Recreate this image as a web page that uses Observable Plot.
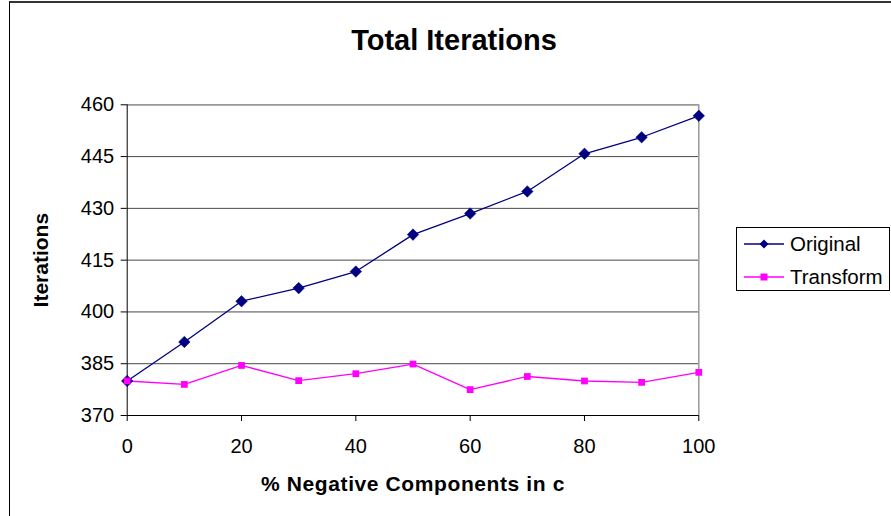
<!DOCTYPE html>
<html>
<head>
<meta charset="utf-8">
<script src="https://cdn.jsdelivr.net/npm/d3@7"></script>
<script src="https://cdn.jsdelivr.net/npm/@observablehq/plot@0.6"></script>
<style>
  html, body { margin: 0; padding: 0; background: #fff; }
  #chart { position: relative; width: 891px; height: 516px; overflow: hidden;
           font-family: "Liberation Sans", Arial, sans-serif; }
  #chart > svg { position: absolute; left: 0; top: 0; }
  .edge { position: absolute; left: 9px; top: 1px; width: 900px; height: 600px;
          border-left: 1.5px solid #000; border-top: 2.5px solid #333; }
  #title { position: absolute; left: 0; width: 908px; top: 24px; text-align: center;
           font-weight: bold; font-size: 29px; color: #000; }
  #legend { position: absolute; left: 736px; top: 227px; width: 154px; height: 64px;
            border: 1px solid #000; box-sizing: border-box; font-size: 20.5px; }
  #legend .row { position: absolute; left: 7px; height: 24px; display: flex; align-items: center; }
  #legend .row svg { display: block; }
  #legend .row span { margin-left: 6px; }
</style>
</head>
<body>
<div id="chart">
  <div class="edge"></div>
</div>
<script>
// Percentage of negative components in c
const pctNegative = [0, 10, 20, 30, 40, 50, 60, 70, 80, 90, 100];
// Total iterations, original formulation
const original = [380, 391.3, 403.1, 406.9, 411.7, 422.4, 428.5, 434.9, 445.8, 450.6, 456.8];
// Total iterations, transformed formulation
const transform = [380.0, 379.0, 384.5, 380.1, 382.1, 384.9, 377.5, 381.3, 380.0, 379.6, 382.5];
const yTicks = [370, 385, 400, 415, 430, 445, 460];
const xTicks = [0, 20, 40, 60, 80, 100];
const seriesNames = ["Original", "Transform"];
const seriesColors = ["#000080", "#FF00FF"];

const rows = [
  ...pctNegative.map((p, i) => ({pct: p, value: original[i], series: seriesNames[0]})),
  ...pctNegative.map((p, i) => ({pct: p, value: transform[i], series: seriesNames[1]}))
];

const font = "Liberation Sans, Arial, sans-serif";

const plot = Plot.plot({
  width: 891,
  height: 516,
  marginLeft: 126.7,
  marginRight: 192.7,
  marginTop: 104.3,
  marginBottom: 101,
  style: {fontFamily: font, color: "#000", background: "transparent", overflow: "visible"},
  x: {domain: [0, 100]},
  y: {domain: [370, 460]},
  color: {domain: seriesNames, range: seriesColors},
  marks: [
    Plot.ruleY(yTicks, {stroke: "#4a4a4a", strokeWidth: 1}),
    Plot.ruleX([100], {stroke: "#999", strokeWidth: 1.5}),
    Plot.ruleY([460], {stroke: "#999", strokeWidth: 1.5}),
    Plot.axisY({ticks: yTicks, tickSize: 6, tickPadding: 7, tickFormat: d => d, fontSize: 20,
      label: "Iterations", labelAnchor: "center", labelArrow: "none", labelOffset: 94}),
    Plot.axisX({ticks: xTicks, tickSize: 6, tickPadding: 17, tickFormat: d => d, fontSize: 20,
      label: "% Negative Components in c", labelAnchor: "center", labelArrow: "none", labelOffset: 75}),
    Plot.ruleX([0], {stroke: "#000", strokeWidth: 1}),
    Plot.ruleY([370], {stroke: "#000", strokeWidth: 1}),
    Plot.line(rows, {x: "pct", y: "value", z: "series", stroke: "series", strokeWidth: 1.3}),
    Plot.dot(rows.filter(d => d.series === "Original"),
      {x: "pct", y: "value", symbol: "diamond2", r: 5.2, fill: "series", stroke: "series", strokeWidth: 0.5}),
    Plot.dot(rows.filter(d => d.series === "Transform"),
      {x: "pct", y: "value", symbol: "square2", r: 4.3, fill: "series", stroke: "none"})
  ]
});

// bold axis titles
d3.select(plot).selectAll("g[aria-label='y-axis label'] text")
  .attr("font-weight", "bold").attr("font-size", "21px");
d3.select(plot).selectAll("g[aria-label='x-axis label'] text")
  .attr("font-weight", "bold").attr("font-size", "21px").attr("letter-spacing", "0.6px");

const chart = document.getElementById("chart");
chart.appendChild(plot);

const title = document.createElement("div");
title.id = "title";
title.textContent = "Total Iterations";
chart.appendChild(title);

// legend
const legend = document.createElement("div");
legend.id = "legend";
seriesNames.forEach((name, i) => {
  const row = document.createElement("div");
  row.className = "row";
  row.style.top = (4 + i * 33) + "px";
  const sw = d3.create("svg").attr("width", 40).attr("height", 12);
  sw.append("line").attr("x1", 0).attr("x2", 40).attr("y1", 6).attr("y2", 6)
    .attr("stroke", seriesColors[i]).attr("stroke-width", 1.3);
  if (i === 0) {
    sw.append("path").attr("d", "M20,1.5L24.5,6L20,10.5L15.5,6Z").attr("fill", seriesColors[i]);
  } else {
    sw.append("rect").attr("x", 16.5).attr("y", 2.5).attr("width", 7).attr("height", 7).attr("fill", seriesColors[i]);
  }
  row.appendChild(sw.node());
  const label = document.createElement("span");
  label.textContent = name;
  row.appendChild(label);
  legend.appendChild(row);
});
chart.appendChild(legend);
</script>
</body>
</html>
